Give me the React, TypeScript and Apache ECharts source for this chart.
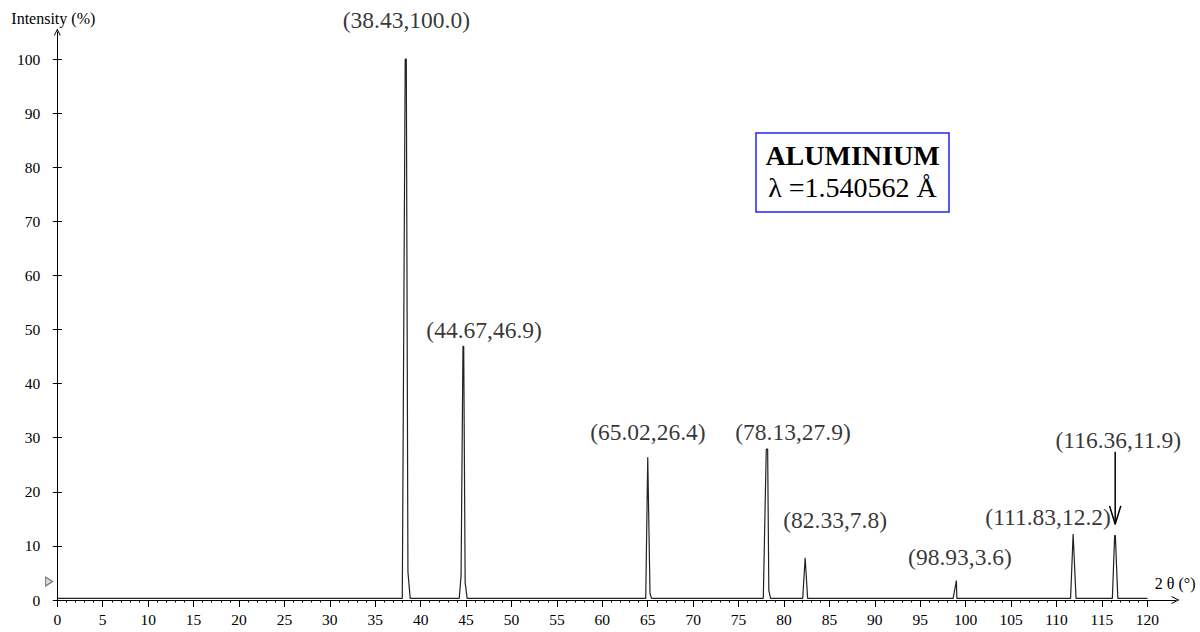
import React, { useEffect, useRef } from "react";
import * as echarts from "echarts";

// Peak positions (2θ, °) and relative intensities (%)
const twoTheta = [38.43, 44.67, 65.02, 78.13, 82.33, 98.93, 111.83, 116.36];
const intensity = [100.0, 46.9, 26.4, 27.9, 7.8, 3.6, 12.2, 11.9];

// Diffraction profile: [2θ, intensity]
const profile: [number, number][] = [
  [0, 0.3],
  [37.98, 0.3], [38.3, 100], [38.42, 100], [38.6, 5.2], [38.85, 0.3],
  [44.25, 0.3], [44.45, 4.5], [44.66, 46.9], [44.74, 46.9], [44.9, 3.2], [45.12, 0.3],
  [64.78, 0.3], [65.0, 26.4], [65.06, 26.4], [65.25, 1.2], [65.42, 0.3],
  [77.72, 0.3], [78.05, 27.9], [78.2, 27.9], [78.33, 1.8], [78.52, 0.3],
  [82.06, 0.3], [82.33, 7.8], [82.6, 0.3],
  [98.62, 0.3], [98.98, 3.6], [99.03, 0.3],
  [111.55, 0.3], [111.83, 12.2], [111.88, 12.2], [112.15, 0.3],
  [116.15, 0.3], [116.4, 11.9], [116.48, 11.9], [116.75, 0.3],
  [120, 0.3],
];

// Axis ticks
const xTicks = [0, 5, 10, 15, 20, 25, 30, 35, 40, 45, 50, 55, 60, 65, 70, 75, 80, 85, 90, 95, 100, 105, 110, 115, 120];
const yTicks = [0, 10, 20, 30, 40, 50, 60, 70, 80, 90, 100];
const xMinorTicks = Array.from({ length: 121 }, (_, i) => i);

// Annotation arrow for the last peak (data coords)
const arrowX = 116.46;
const arrowTop = 27.4;
const arrowTip = 14.0;
const arrowArm = 17.4;
const arrowHalf = 0.62;

// Zero-level marker
const zeroMarker: [number, number][] = [[-0.9, 3.4]];

// Label pixel offsets (styling)
const labelOffsets: [number, number][] = [
  [0, -39], [21, -16], [0, -25], [26, -17], [30, -38], [4, -24], [-25, -17], [4, -96],
];

const FONT = '"Liberation Serif", "Times New Roman", serif';
const CHEVRON = "path://M5,0 L10,10 L8.6,10 L5,2.8 L1.4,10 L0,10 Z";

export default function App() {
  const ref = useRef<HTMLDivElement>(null);
  useEffect(() => {
    if (!ref.current) return;
    const chart = echarts.init(ref.current, null, { renderer: "svg" });
    const peakData = twoTheta.map((x, i) => ({
      value: [x, intensity[i]],
      label: { offset: labelOffsets[i] },
    }));
    const option: any = {
      animation: false,
      backgroundColor: "#ffffff",
      textStyle: { fontFamily: FONT, color: "#000" },
      grid: { left: 57.3, right: 24.5, top: 32, bottom: 32, containLabel: false },
      xAxis: [
        {
          type: "value",
          min: 0,
          max: 123.1,
          position: "bottom",
          name: "2 θ (°)",
          nameLocation: "end",
          nameGap: 20,
          nameTextStyle: {
            fontFamily: FONT,
            fontSize: 16,
            color: "#000",
            align: "right",
            verticalAlign: "bottom",
            padding: [0, 0, 9, 0],
          },
          axisLine: {
            show: true,
            onZero: false,
            lineStyle: { color: "#000", width: 1 },
            symbol: ["none", CHEVRON],
            symbolSize: [8, 9],
          },
          axisTick: { show: true, inside: false, length: 7, customValues: xTicks, lineStyle: { color: "#000", width: 1 } },
          axisLabel: { show: true, customValues: xTicks, margin: 11, fontSize: 15.5, color: "#000", fontFamily: FONT },
          splitLine: { show: false },
        },
        {
          type: "value",
          min: 0,
          max: 123.1,
          position: "bottom",
          axisLine: { show: false, onZero: false },
          axisTick: { show: true, inside: false, length: 2.5, customValues: xMinorTicks, lineStyle: { color: "#000", width: 1 } },
          axisLabel: { show: false },
          splitLine: { show: false },
        },
      ],
      yAxis: [
        {
          type: "value",
          min: 0,
          max: 105,
          position: "left",
          name: "Intensity (%)",
          nameLocation: "end",
          nameGap: 14,
          nameTextStyle: {
            fontFamily: FONT,
            fontSize: 16,
            color: "#000",
            align: "center",
            verticalAlign: "middle",
            padding: [0, 8, 0, 0],
          },
          axisLine: {
            show: true,
            onZero: false,
            lineStyle: { color: "#000", width: 1 },
            symbol: ["none", CHEVRON],
            symbolSize: [7, 7],
          },
          axisTick: { show: true, inside: false, length: 4.5, customValues: yTicks, lineStyle: { color: "#000", width: 1 } },
          axisLabel: { show: true, customValues: yTicks, margin: 17, fontSize: 15.5, color: "#000", fontFamily: FONT },
          splitLine: { show: false },
        },
        {
          type: "value",
          min: 0,
          max: 105,
          position: "left",
          axisLine: { show: false, onZero: false },
          axisTick: { show: true, inside: true, length: 4.5, customValues: yTicks, lineStyle: { color: "#000", width: 1 } },
          axisLabel: { show: false },
          splitLine: { show: false },
        },
      ],
      series: [
        {
          name: "profile",
          type: "line",
          xAxisIndex: 0,
          yAxisIndex: 0,
          data: profile,
          showSymbol: false,
          symbol: "none",
          lineStyle: { color: "#222", width: 1.2 },
          silent: true,
          z: 3,
        },
        {
          name: "peaks",
          type: "scatter",
          xAxisIndex: 0,
          yAxisIndex: 0,
          data: peakData,
          symbolSize: 1,
          itemStyle: { color: "rgba(0,0,0,0)" },
          label: {
            show: true,
            position: "inside",
            align: "center",
            verticalAlign: "middle",
            fontFamily: FONT,
            fontSize: 23.5,
            color: "#000",
            formatter: (p: any) => `(${p.value[0].toFixed(2)},${p.value[1].toFixed(1)})`,
          },
          silent: true,
          z: 5,
        },
        {
          name: "arrowShaft",
          type: "line",
          xAxisIndex: 0,
          yAxisIndex: 0,
          data: [[arrowX, arrowTop], [arrowX, arrowTip]],
          showSymbol: false,
          symbol: "none",
          lineStyle: { color: "#000", width: 1.5 },
          silent: true,
          z: 4,
        },
        {
          name: "arrowHead",
          type: "line",
          xAxisIndex: 0,
          yAxisIndex: 0,
          data: [[arrowX - arrowHalf, arrowArm], [arrowX, arrowTip], [arrowX + arrowHalf, arrowArm]],
          showSymbol: false,
          symbol: "none",
          lineStyle: { color: "#000", width: 1.5 },
          silent: true,
          z: 4,
        },
        {
          name: "zeroMarker",
          type: "scatter",
          xAxisIndex: 0,
          yAxisIndex: 0,
          data: zeroMarker,
          symbol: "path://M0,0 L10,6 L0,12 Z",
          symbolSize: [7, 9],
          itemStyle: { color: "#cfcfcf", borderColor: "#444", borderWidth: 1 },
          clip: false,
          silent: true,
        },
      ],
      graphic: [
        {
          type: "rect",
          shape: { x: 756, y: 133, width: 193, height: 79 },
          style: { fill: "#ffffff", stroke: "#2222ff", lineWidth: 1.5 },
          z: 10,
        },
        {
          type: "text",
          x: 852.5,
          y: 155,
          style: {
            text: "ALUMINIUM",
            fontFamily: FONT,
            fontSize: 28,
            fontWeight: "bold",
            fill: "#000",
            align: "center",
            verticalAlign: "middle",
          },
          z: 11,
        },
        {
          type: "text",
          x: 852.5,
          y: 187,
          style: {
            text: "λ =1.540562 Å",
            fontFamily: FONT,
            fontSize: 28,
            fill: "#000",
            align: "center",
            verticalAlign: "middle",
          },
          z: 11,
        },
      ],
    };
    chart.setOption(option);
    return () => chart.dispose();
  }, []);
  return (
    <div
      ref={ref}
      style={{ position: "absolute", left: 0, top: 0, width: 1200, height: 632, background: "#fff" }}
    />
  );
}
